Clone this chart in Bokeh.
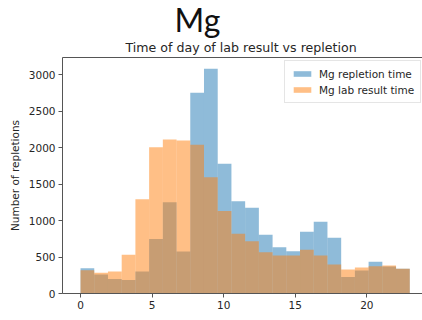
from bokeh.plotting import figure
from bokeh.models import Range1d, Title, LinearAxis, FixedTicker, Legend, LegendItem
from bokeh.embed import file_html
from bokeh.resources import INLINE
import numpy as np

# histogram binning (matplotlib default: 24 bins over 0..23)
hist_range = (0, 23)
n_bins = 24

repletion_counts = [345, 260, 200, 185, 300, 745, 1250, 575, 2750, 3078, 1777, 1265,
                    1174, 804, 634, 580, 845, 982, 763, 225, 315, 435, 370, 340]
lab_counts = [320, 283, 300, 530, 1290, 2004, 2110, 2096, 2037, 1593, 1130, 818,
              717, 566, 521, 521, 598, 521, 397, 330, 355, 375, 385, 340]

x_ticks = [0, 5, 10, 15, 20]
y_ticks = [0, 500, 1000, 1500, 2000, 2500, 3000]

big_title = "Mg"
title = "Time of day of lab result vs repletion"
y_label = "Number of repletions"
series_names = ["Mg repletion time", "Mg lab result time"]

edges = np.linspace(hist_range[0], hist_range[1], n_bins + 1)

FONT = "DejaVu Sans"
TXT = "#262626"
AX = "#555555"

p = figure(width=422, height=320, output_backend="svg", toolbar_location=None,
           x_range=Range1d(-1.26, 23.89), y_range=Range1d(0, 3233),
           min_border_left=62, min_border_right=0, min_border_top=57, min_border_bottom=27)
p.outline_line_color = None
p.xgrid.visible = False
p.ygrid.visible = False

r1 = p.quad(left=edges[:-1], right=edges[1:], bottom=0, top=repletion_counts,
            fill_color="#1f77b4", fill_alpha=0.5, line_color=None)
r2 = p.quad(left=edges[:-1], right=edges[1:], bottom=0, top=lab_counts,
            fill_color="#ff7f0e", fill_alpha=0.5, line_color=None)

for ax in (p.xaxis[0], p.yaxis[0]):
    ax.axis_line_color = AX
    ax.major_tick_line_color = AX
    ax.minor_tick_line_color = None
    ax.major_tick_in = 0
    ax.major_tick_out = 4
    ax.major_label_text_font = FONT
    ax.major_label_text_font_size = "10.5px"
    ax.major_label_text_color = TXT
    ax.major_label_standoff = 3
p.xaxis.ticker = FixedTicker(ticks=x_ticks)
p.yaxis.ticker = FixedTicker(ticks=y_ticks)
p.yaxis.axis_label = y_label
p.yaxis.axis_label_text_font = FONT
p.yaxis.axis_label_text_font_size = "10.5px"
p.yaxis.axis_label_text_font_style = "normal"
p.yaxis.axis_label_text_color = TXT
p.yaxis.axis_label_standoff = 5

top_axis = LinearAxis(ticker=FixedTicker(ticks=[]), major_tick_line_color=None,
                      minor_tick_line_color=None, major_label_text_font_size="0px",
                      axis_line_color=AX)
p.add_layout(top_axis, "above")

p.add_layout(Title(text=title, align="left", offset=63, standoff=6,
                   text_font=FONT, text_font_size="12.6px", text_font_style="normal",
                   text_color=TXT), "above")
p.add_layout(Title(text=big_title, align="left", offset=112, standoff=-9,
                   text_font="Lato", text_font_size="32px", text_font_style="normal",
                   text_color="#111111"), "above")

legend = Legend(items=[LegendItem(label=series_names[0], renderers=[r1]),
                       LegendItem(label=series_names[1], renderers=[r2])],
                location=(222, 190), padding=6, spacing=3, label_height=13,
                glyph_width=22, glyph_height=7, label_standoff=6,
                label_text_font=FONT, label_text_font_size="10.5px",
                label_text_color=TXT, border_line_color="#cccccc",
                background_fill_alpha=0.8)
p.add_layout(legend)

open("out.html", "w").write(file_html(p, INLINE))
